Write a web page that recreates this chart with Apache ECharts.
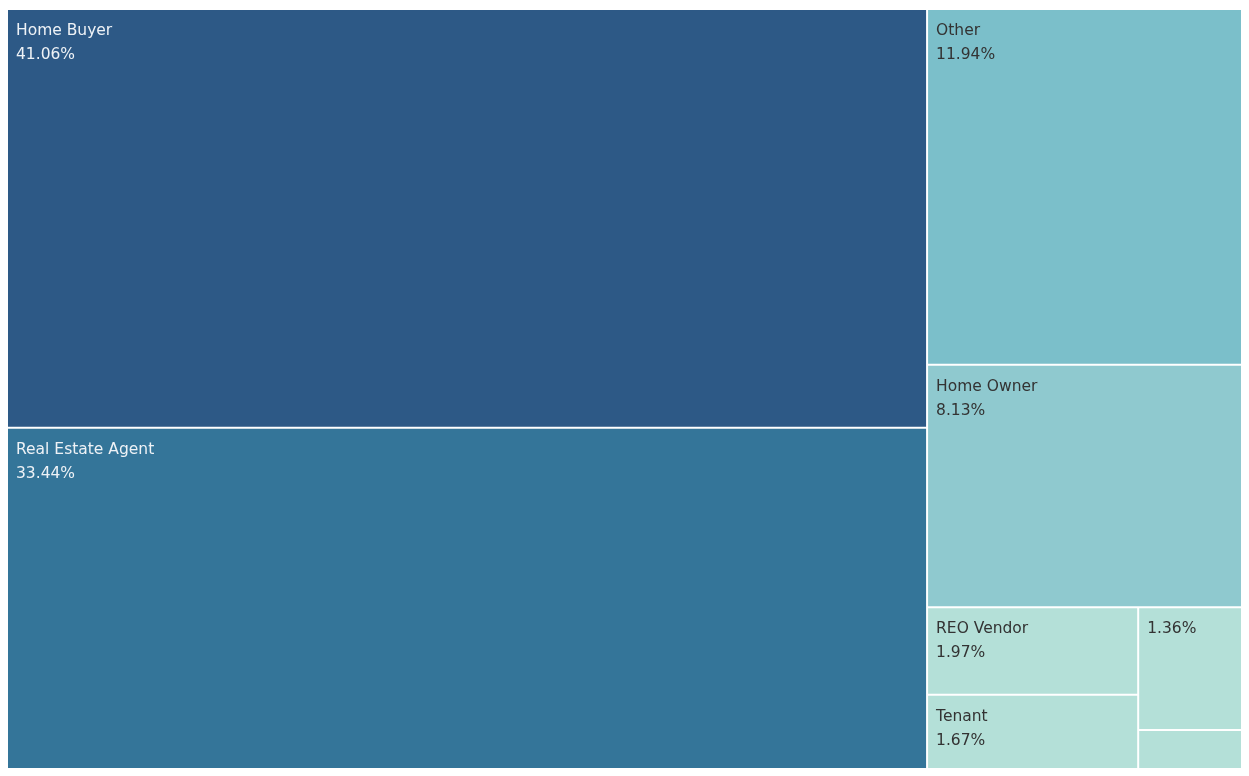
<!DOCTYPE html>
<html>
<head>
<meta charset="utf-8">
<script src="https://cdn.jsdelivr.net/npm/echarts@6/dist/echarts.min.js"></script>
<style>
html,body{margin:0;padding:0;background:#fff;}
#c{width:1249px;height:776px;}
</style>
</head>
<body>
<div id="c"></div>
<script>
const names = ['Home Buyer', 'Real Estate Agent', 'Other', 'Home Owner', 'REO Vendor', 'Tenant', '', ''];
const values = [41.06, 33.44, 11.94, 8.13, 1.97, 1.67, 1.36, 0.43];
const showName = [true, true, true, true, true, true, false, false];
const showLabel = [true, true, true, true, true, true, true, false];
const colors = ['#2d5986', '#347599', '#7bbfca', '#8fc9cf', '#b4e0d8', '#b4e0d8', '#b4e0d8', '#b4e0d8'];
const textColors = ['#eef2f6', '#eef2f6', '#333333', '#333333', '#333333', '#333333', '#333333', '#333333'];

const data = names.map((n, i) => ({
  name: n || ('item' + i),
  value: values[i],
  itemStyle: { color: colors[i] },
  label: {
    show: showLabel[i],
    color: textColors[i],
    formatter: showName[i] ? (n + '\n' + values[i].toFixed(2) + '%') : (values[i].toFixed(2) + '%')
  }
}));

const chart = echarts.init(document.getElementById('c'), null, { renderer: 'canvas' });
chart.setOption({
  animation: false,
  tooltip: { show: false },
  series: [{
    type: 'treemap',
    left: 8, top: 10, width: 1233, height: 758,
    roam: false,
    nodeClick: false,
    breadcrumb: { show: false },
    sort: 'desc',
    data: data,
    levels: [{
      itemStyle: { gapWidth: 2, borderWidth: 0, borderColor: '#ffffff' }
    }],
    itemStyle: { borderWidth: 0, gapWidth: 2 },
    label: {
      show: true,
      position: 'insideTopLeft',
      fontFamily: 'DejaVu Sans, sans-serif',
      fontSize: 15.5,
      lineHeight: 24,
      padding: [9, 0, 0, 8]
    },
    upperLabel: { show: false },
    emphasis: { disabled: true }
  }]
});
</script>
</body>
</html>
